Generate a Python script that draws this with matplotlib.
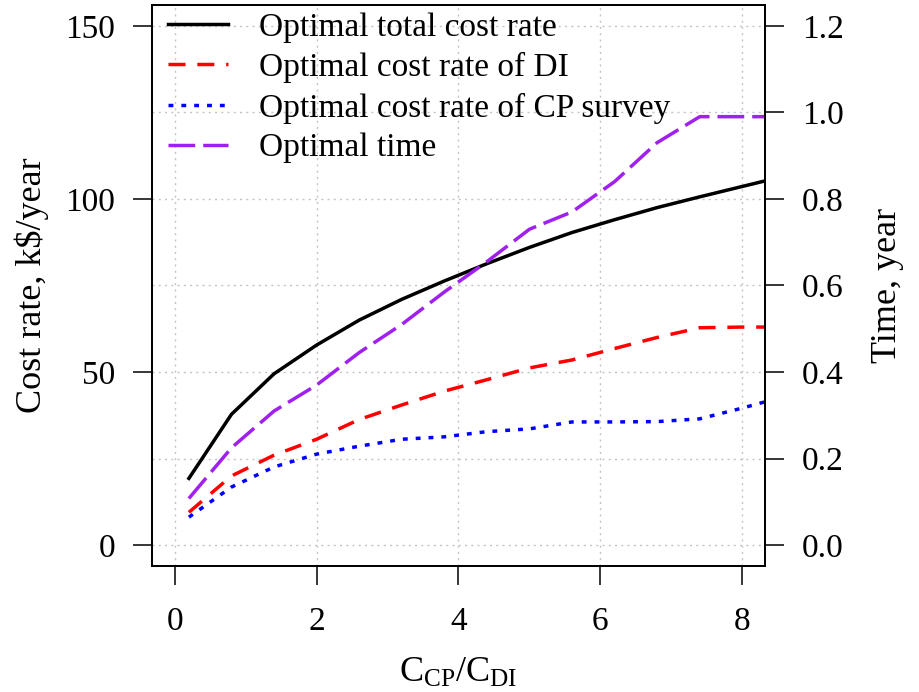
import matplotlib
matplotlib.use('Agg')
import matplotlib.pyplot as plt
from matplotlib.ticker import MultipleLocator
from matplotlib.lines import Line2D

plt.rcParams['font.family'] = ['Liberation Serif', 'DejaVu Serif']
plt.rcParams['mathtext.fontset'] = 'custom'
plt.rcParams['mathtext.rm'] = 'Liberation Serif'
plt.rcParams['mathtext.it'] = 'Liberation Serif:italic'

# cost ratio C_CP / C_DI
ratio = [0.2, 0.8, 1.4, 2.0, 2.6, 3.2, 3.8, 4.4, 5.0, 5.6, 6.2, 6.8, 7.4, 8.0, 8.6]
# optimal cost rates, k$/year
total_cost = [19.3, 37.8, 49.5, 57.8, 65.0, 71.0, 76.3, 81.3, 86.0, 90.3, 94.0, 97.5, 100.6, 103.6, 106.6]
di_cost = [9.5, 20.0, 26.0, 30.6, 36.3, 40.5, 44.5, 47.8, 51.2, 53.5, 56.8, 60.0, 62.8, 63.0, 63.0]
cp_cost = [8.1, 16.8, 22.6, 26.3, 28.6, 30.6, 31.3, 32.8, 33.6, 35.6, 35.6, 35.7, 36.5, 39.6, 43.0]
# optimal inspection time, year
opt_time = [0.108, 0.225, 0.31, 0.37, 0.445, 0.51, 0.585, 0.655, 0.73, 0.77, 0.84, 0.93, 0.99, 0.99, 0.99]

FS = 24
LFS = 26
LW = 2.5
W, H = 920, 692

DASH_DI = (4.9, 3.4)
DASH_CP = (1.4, 2.3)
DASH_T = (7.7, 2.3)
PURPLE = '#A020F0'

fig = plt.figure(figsize=(W / 100, H / 100), dpi=100)
ax = fig.add_axes([152 / W, 1 - 566 / H, 613 / W, 561 / H])

ax.plot(ratio, total_cost, color='black', lw=LW)
ax.plot(ratio, di_cost, color='red', lw=LW, dashes=DASH_DI)
ax.plot(ratio, cp_cost, color='blue', lw=LW, dashes=DASH_CP)

ax.set_xlim(-0.32, 8.32)
ax.set_ylim(-6, 156)
ax.set_xticks([0, 2, 4, 6, 8])
ax.set_yticks([0, 50, 100, 150])
ax.yaxis.set_minor_locator(MultipleLocator(25))
ax.tick_params(which='minor', length=0)
ax.tick_params(which='major', direction='out', length=13.5, width=1.1,
               pad=13, labelsize=FS)
ax.tick_params(axis='x', pad=16)
ax.grid(which='both', color='#c4c4c4', linestyle=(0, (1.5, 3)), lw=1.0)
for sp in ax.spines.values():
    sp.set_linewidth(1.3)

ax.set_xlabel(r'$\mathrm{C_{CP}/C_{DI}}$', fontsize=LFS, labelpad=14)
ax.set_ylabel('Cost rate, k$/year', fontsize=LFS, labelpad=12)

# time on the right-hand axis, sharing the cost scale (1.2 year <-> 150 k$)
ax2 = ax.twinx()
ax2.plot(ratio, opt_time, color=PURPLE, lw=LW, dashes=DASH_T)
ax2.set_ylim(-6 / 125, 156 / 125)
ax2.set_yticks([0.0, 0.2, 0.4, 0.6, 0.8, 1.0, 1.2])
ax2.set_yticklabels(['0.0', '0.2', '0.4', '0.6', '0.8', '1.0', '1.2'])
ax2.tick_params(direction='out', length=13.5, width=1.1, pad=13, labelsize=FS)
ax2.set_ylabel('Time, year', fontsize=LFS, labelpad=20)
for sp in ax2.spines.values():
    sp.set_linewidth(1.3)

handles = [
    Line2D([], [], color='black', lw=LW),
    Line2D([], [], color='red', lw=LW, dashes=DASH_DI),
    Line2D([], [], color='blue', lw=LW, dashes=DASH_CP),
    Line2D([], [], color=PURPLE, lw=LW, dashes=DASH_T),
]
labels = ['Optimal total cost rate', 'Optimal cost rate of DI',
          'Optimal cost rate of CP survey', 'Optimal time']
ax2.legend(handles, labels, loc='upper left', bbox_to_anchor=(0.021, 0.993),
           frameon=False, fontsize=FS, handlelength=1.8, handletextpad=0.93,
           labelspacing=0.28, borderaxespad=0.0, borderpad=0.1)

fig.savefig('out.png', dpi=100)
